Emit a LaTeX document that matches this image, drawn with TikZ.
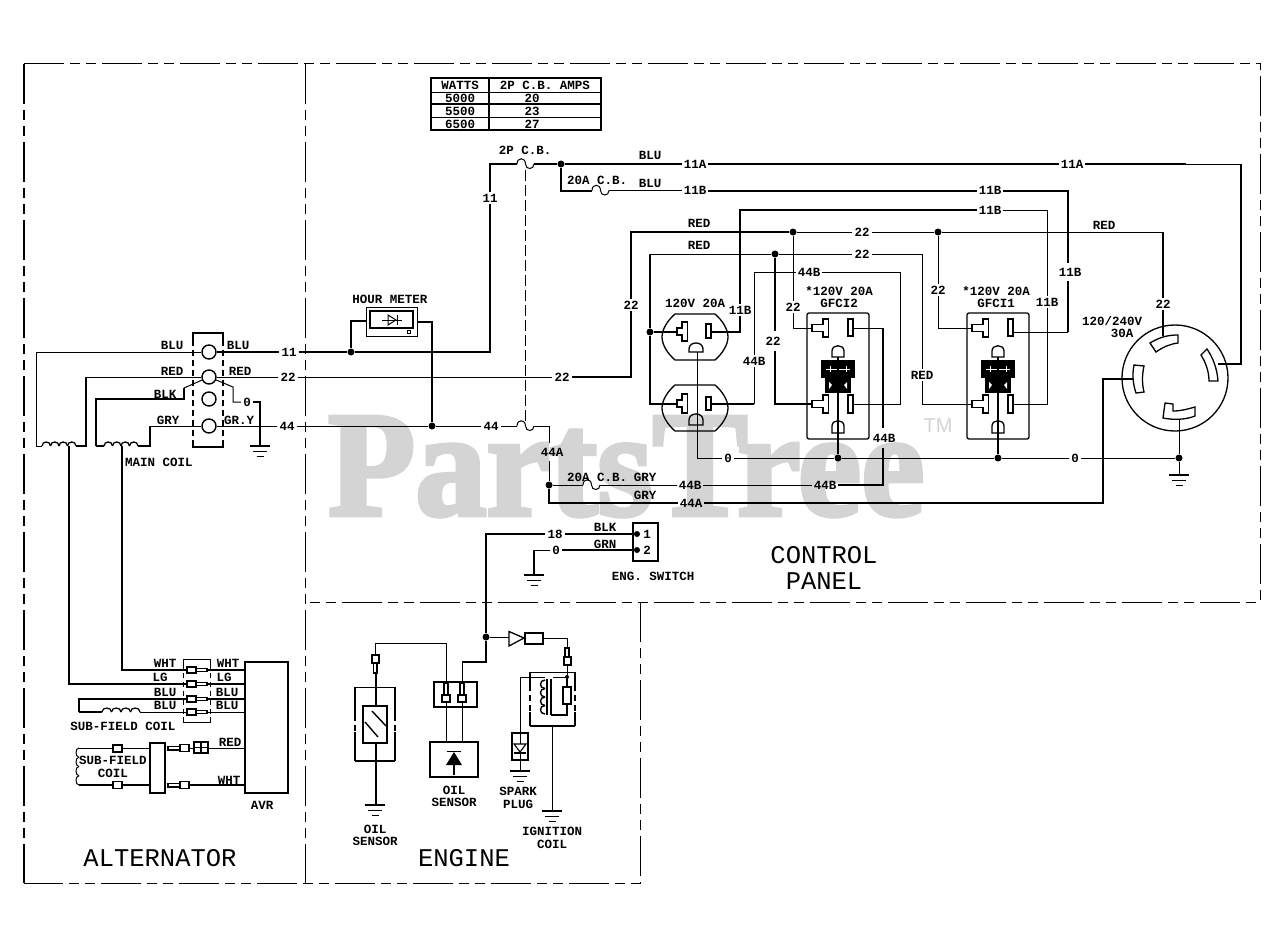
\documentclass[tikz,border=0pt]{standalone}
\usepackage{fontspec}
\setmainfont{Liberation Sans}
\newfontfamily\cadb{Liberation Mono Bold}
\newfontfamily\cadr{Liberation Mono}
\newfontfamily\wmf[FakeBold=3]{Liberation Serif Bold}
\definecolor{wm}{HTML}{D4D4D4}
\tikzset{
  wt/.style={line width=1pt,line join=miter},
  wk/.style={line width=2pt,line join=miter},
  lb/.style={font=\cadb\fontsize{12.5}{13}\selectfont,inner sep=2pt,text=black},
  big/.style={font=\cadr\fontsize{25.5}{26}\selectfont,inner sep=0pt,text=black},
  dotn/.style={circle,fill=black,inner sep=0pt,minimum size=7pt},
  ringn/.style={circle,draw=black,line width=1.4pt,fill=none,inner sep=0pt,minimum size=14pt},
  phantom/.style={line width=1pt,dash pattern=on 40pt off 6pt on 10pt off 6pt on 10pt off 6pt},
  linkd/.style={line width=1pt,dash pattern=on 11pt off 4pt},
  sided/.style={line width=1.3pt,dash pattern=on 6pt off 4pt},
}
\newcommand\lab[4][]{\node[lb,#1] (#2) at #3 {#4};}
\newcommand\gnd[2]{\draw[wk] (#1-10,#2) -- (#1+10,#2);\draw[wt] (#1-7,#2+5) -- (#1+7,#2+5);\draw[wt] (#1-3.5,#2+10) -- (#1+3.5,#2+10);}
\newcommand\humps[6]{\foreach \i in {1,...,#3}{\pgfmathsetmacro\xa{#1+(\i-1)*#4}\pgfmathsetmacro\xc{\xa+#4}\draw[#6] (\xa,#2) .. controls (\xa,#2-#5*1.33) and (\xc,#2-#5*1.33) .. (\xc,#2);}}
\newcommand\vhumps[6]{\foreach \i in {1,...,#3}{\pgfmathsetmacro\ya{#2+(\i-1)*#4}\pgfmathsetmacro\yc{\ya+#4}\draw[#6] (#1,\ya) .. controls (#1-#5*1.33,\ya) and (#1-#5*1.33,\yc) .. (#1,\yc);}}
\newcommand\breaker[2]{\draw[wt] (#1,#2) .. controls (#1,#2-7) and (#1+8.5,#2-7) .. (#1+8.5,#2) .. controls (#1+8.5,#2+6) and (#1+17,#2+6) .. (#1+17,#2);}
\newcommand\Tslot[5]{% xbar, y1, y2, stemx, stemhalf
 \pgfmathsetmacro\ym{(#2+#3)/2}
 \draw[wt,line width=1.3pt] (#1,#2) -- (#1+5.5,#2) -- (#1+5.5,#3) -- (#1,#3) -- (#1,\ym+#5) -- (#4,\ym+#5) -- (#4,\ym-#5) -- (#1,\ym-#5) -- cycle;}
\newcommand\gslot[4]{% cx, ytop, ybot, halfw
 \draw[line width=1.3pt] (#1-#4,#3) -- (#1-#4,#2+#4) .. controls (#1-#4,#2-1) and (#1+#4,#2-1) .. (#1+#4,#2+#4) -- (#1+#4,#3) -- cycle;}
\newcommand\gfci[2]{\begin{scope}[shift={(#1,0)}]
 \draw[line width=1.3pt,rounded corners=2pt] (807,313) rectangle (869,439);
 \Tslot{823}{319}{337}{812}{3.5}
 \draw[line width=1.3pt] (848,319) rectangle (853,336);
 \gslot{838}{345}{357}{6}
 \Tslot{823}{395}{413}{812}{3.5}
 \draw[line width=1.3pt] (848,395) rectangle (853,413);
 \gslot{838}{420}{433}{6}
 \fill[black] (821,360) rectangle (855,378);
 \fill[black] (825,378) rectangle (851,393);
 \draw[white,line width=1pt] (826,369) -- (850,369);
 \draw[white,line width=1pt] (830,366) -- (830,372) (846,366) -- (846,372);
 \fill[white] (829,382) -- (832,385) -- (829,389) -- cycle;
 \fill[white] (847,382) -- (844,385) -- (847,389) -- cycle;
 \coordinate (#2T1) at (812,328);
 \coordinate (#2S1) at (853,328);
 \coordinate (#2S1b) at (853,332);
 \coordinate (#2T2) at (812,404);
 \coordinate (#2S2) at (853,404);
 \coordinate (#2G1) at (838,357);
 \coordinate (#2G2) at (838,433);
\end{scope}}
\begin{document}
\begin{tikzpicture}[x=1pt,y=-1pt]
\useasboundingbox (0,0) rectangle (1280,934);
\fill[white] (0,0) rectangle (1280,934);
% watermark
\node[anchor=base west,inner sep=0pt,text=wm,font=\wmf\fontsize{150}{150}\selectfont,xscale=0.95] (wmark) at (328,515) {PartsTree};
\node[anchor=center,inner sep=0pt,text=wm,font=\fontsize{20}{20}\selectfont] (wmtm) at (938,426) {TM};
% frames
\draw[phantom] (24,64) -- (1260,64) -- (1260,602) -- (305,602);
\draw[phantom] (305,64) -- (305,883);
\draw[phantom] (640,602) -- (640,883) -- (24,883);
\draw[line width=2pt,dash pattern=on 40pt off 6pt on 10pt off 6pt on 10pt off 6pt] (24,64) -- (24,883);
\node[big] (tAlt) at (160,858) {ALTERNATOR};
\node[big] (tEng) at (464,858) {ENGINE};
\node[big] (tCon) at (824,555) {CONTROL};
\node[big] (tPan) at (824,581) {PANEL};
% table
\draw[line width=1.5pt] (431,78) rectangle (601,130);
\draw[line width=1pt] (431,92) -- (601,92);
\draw[line width=1.5pt] (431,104) -- (601,104);
\draw[line width=1pt] (431,117) -- (601,117);
\draw[line width=1.5pt] (489,78) -- (489,130);
\lab{tw}{(460,85)}{WATTS}
\lab{ta}{(545,85)}{2P C.B. AMPS}
\lab{t1}{(460,98)}{5000}
\lab{t2}{(460,111)}{5500}
\lab{t3}{(460,124)}{6500}
\lab{a1}{(532,98)}{20}
\lab{a2}{(532,111)}{23}
\lab{a3}{(532,124)}{27}
% terminal block
\draw[wk] (193,340) |- (223,333) -- (223,340);
\draw[wk] (193,440) |- (223,447) -- (223,440);
\draw[sided] (193,340) -- (193,440);
\draw[sided] (223,340) -- (223,440);
\node[ringn] (c1) at (209,352) {};
\node[ringn] (c2) at (209,377) {};
\node[ringn] (c3) at (209,399) {};
\node[ringn] (c4) at (209,426) {};
% wiring labels on wires
\lab{l11a}{(289,352)}{11}
\lab{l22a}{(288,377)}{22}
\lab{l44a}{(287,426)}{44}
\lab{l11b}{(490,198)}{11}
\lab{l22b}{(562,377)}{22}
\lab{l44b}{(491,426)}{44}
\lab{l22c}{(631,305)}{22}
\lab{l22d}{(862,232)}{22}
\lab{l22e}{(1163,304)}{22}
\lab{l22f}{(862,254)}{22}
\lab{lred}{(922,375)}{RED}
\lab{l11Aa}{(695,164)}{11A}
\lab{l11Ab}{(1072,164)}{11A}
\lab{l11Ba}{(695,190.5)}{11B}
\lab{l11Bb}{(990,190.5)}{11B}
\lab{l11Bc}{(990,210)}{11B}
\lab{l11Bd}{(1070,272)}{11B}
\lab{l11Be}{(1047,302)}{11B}
\lab{l11Bf}{(740,310)}{11B}
\lab{l44Ba}{(809,272)}{44B}
\lab{l44Bb}{(754,361)}{44B}
\lab{l44Bc}{(884,438)}{44B}
\lab{l44Bd}{(825,485)}{44B}
\lab{l44Be}{(690,485)}{44B}
\lab{l44Aa}{(552,452)}{44A}
\lab{l44Ab}{(691,503)}{44A}
\lab{l22g}{(793,307)}{22}
\lab{l22h}{(773,341)}{22}
\lab{l22i}{(938,290)}{22}
\lab{l0a}{(728,458)}{0}
\lab{l0b}{(1075,458)}{0}
\lab{l0c}{(247,402)}{0}
\lab{l18}{(555,534)}{18}
\lab{l0d}{(556,550)}{0}
% wire stubs beside off-centre labels
\coordinate (w1a) at (1068,263);
\coordinate (w1b) at (1068,281);
\coordinate (w2a) at (775,331);
\coordinate (w2b) at (775,351);
\coordinate (w3a) at (883,428);
\coordinate (w3b) at (883,448);
\coordinate (w4a) at (549,443);
\coordinate (w4b) at (549,461);
% junctions
\node[dotn] (j351) at (351,352) {};
\node[dotn] (j432) at (432,426) {};
\node[dotn] (j561) at (561,164) {};
\node[dotn] (j793) at (793,232) {};
\node[dotn] (j938) at (938,232) {};
\node[dotn] (j777) at (775,254) {};
\node[dotn] (j650) at (650,332) {};
\node[dotn] (j549) at (549,485) {};
\node[dotn] (j838) at (838,458) {};
\node[dotn] (j998) at (998,458) {};
\node[dotn] (j1179) at (1179,458) {};
\node[dotn] (j486) at (486,637) {};
\node[circle,fill=black,inner sep=0pt,minimum size=6pt] (s1) at (637,534) {};
\node[circle,fill=black,inner sep=0pt,minimum size=6pt] (s2) at (637,550) {};
\node[circle,fill=black,inner sep=0pt,minimum size=4pt] (j567) at (567,677) {};
% alternator side coils
\coordinate (cl1) at (36,446);
\coordinate (cl2) at (86,446);
\coordinate (cl3) at (96,446);
\coordinate (cl4) at (150,446);
\draw[wt] (c1) -- (36,352) -- (cl1) -- (42,446);
\humps{42}{446}{4}{8.5}{4}{line width=1.3pt}
\draw[wk] (76,446) -- (cl2) -- (86,377);
\draw[wt] (86,377) -- (c2);
\draw[wk] (cl3) -- (96,399) -- (184,399) -- (184,388);
\draw[wt] (184,388) -- (c2);
\draw[wk] (cl3) -- (104,446);
\humps{104}{446}{4}{8.5}{4}{line width=1.3pt}
\draw[wk] (138,446) -- (cl4) -- (150,426);
\draw[wt] (150,426) -- (c4);
% center taps to connector
\coordinate (rLG) at (187,684);
\coordinate (rWH) at (187,670);
\draw[wk] (69,446) -- (69,684) -- (rLG);
\draw[wk] (122,446) -- (122,670) -- (rWH);
\node[lb] (mcoil) at (159,462) {MAIN COIL};
% right of block
\draw[wk] (c1) -- (l11a);
\draw[wk] (l11a) -- (j351);
\draw[wk] (j351) -- (490,352) -- (l11b);
\draw[wk] (l11b) -- (490,164) -- (517,164);
\coordinate (cb1) at (525,170);
\breaker{517}{164}
\draw[wk] (534,164) -- (j561);
\draw[wt] (c2) -- (l22a);
\draw[wt] (l22a) -- (l22b);
\draw[wk] (l22b) -- (631,377) -- (l22c);
\draw[wk] (l22c) -- (631,232) -- (j793);
\draw[wt] (c2) -- (233,387) -- (233,402) -- (l0c);
\draw[wk] (l0c) -- (260,402) -- (260,446);
\gnd{260}{446}
\draw[wt] (c4) -- (l44a);
\draw[wt] (l44a) -- (j432);
\draw[wt] (j432) -- (l44b);
\draw[wt] (l44b) -- (517,426);
\breaker{517}{426}
\coordinate (cb2) at (525,423);
\draw[linkd] (cb1) -- (cb2);
\draw[wt] (534,426) -- (549,426) -- (w4a);
\draw[wt] (w4b) -- (j549);
% hour meter
\draw[wt] (366,307) rectangle (417,336);
\draw[wk] (370,311) rectangle (413,328);
\node[inner sep=0pt,minimum size=3pt,draw=black,line width=1.5pt] (hmt) at (409,332) {};
\draw[wt] (382,320) -- (402,320) (397,315) -- (397,325);
\draw[wt,fill=none] (388,315) -- (396,320) -- (388,325) -- cycle;
\coordinate (hmL) at (366,321);
\coordinate (hmR) at (417,322);
\node[lb] (hmn) at (390,299) {HOUR METER};
\draw[wk] (j351) -- (351,321) -- (hmL);
\draw[wk] (hmR) -- (432,322) -- (j432);
% top wires
\lab{lBLUa}{(650,155)}{BLU}
\lab{lBLUb}{(650,183)}{BLU}
\lab{lcb1}{(525,150)}{2P C.B.}
\lab{lcb2}{(597,180)}{20A C.B.}
\lab{lRa}{(699,223)}{RED}
\lab{lRb}{(699,245)}{RED}
\lab{lRc}{(1104,225)}{RED}
\draw[wk] (j561) -- (l11Aa);
\draw[wk] (l11Aa) -- (l11Ab);
\draw[wk] (l11Ab) -- (1186,164);
\draw[wt] (1186,164) -- (1241,164);
\draw[wk] (1241,164) -- (1241,364) -- (1218,364);
\draw[wk] (j561) -- (561,190.5) -- (592,190.5);
\breaker{592}{190.5}
\draw[wt] (609,190.5) -- (l11Ba);
\draw[wk] (l11Ba) -- (l11Bb);
\draw[wk] (l11Bb) -- (1068,190.5) -- (w1a);
% RED lines
\draw[wt] (j793) -- (l22d);
\draw[wt] (l22d) -- (j938);
\draw[wt] (j938) -- (1163,232);
\draw[wk] (1163,232) -- (l22e);
\draw[wk] (l22e) -- (1163,336);
\draw[wt] (650,254) -- (j777);
\draw[wt] (j777) -- (l22f);
\draw[wt] (l22f) -- (922,254) -- (lred);
% receptacles
\foreach \dy/\nm in {0/up,71/lo}{
 \begin{scope}[shift={(0,\dy)}]
 \draw[line width=1.3pt] (675,314) -- (715,314) .. controls (722,320) and (728,329) .. (728,337) .. controls (728,345) and (722,354) .. (715,360) -- (675,360) .. controls (668,354) and (662,345) .. (662,337) .. controls (662,329) and (668,320) .. (675,314) -- cycle;
 \end{scope}
}
\Tslot{682}{322}{341}{677}{3.5}
\draw[line width=1.3pt] (706,324) rectangle (711,338);
\gslot{696}{342}{352}{7}
\Tslot{682}{394}{413}{677}{3.5}
\draw[line width=1.3pt] (706,397) rectangle (711,410);
\gslot{696}{413}{425}{7}
\coordinate (rT1) at (677,332);
\coordinate (rS1) at (711,332);
\coordinate (rT2) at (677,404);
\coordinate (rS2) at (711,404);
\coordinate (rG1) at (697,352);
\lab{lrv}{(695,303)}{120V 20A}
\draw[wk] (650,254) -- (j650);
\draw[wk] (j650) -- (rT1);
\draw[wk] (j650) -- (650,404) -- (rT2);
% 11B third
\draw[wk] (rS1) -- (740,332) -- (l11Bf);
\draw[wk] (l11Bf) -- (740,210) -- (l11Bc);
\draw[wt] (l11Bc) -- (1047,210) -- (l11Be);
% GFCI
\gfci{0}{gA}
\gfci{160}{gB}
\lab{lg2a}{(839,291)}{*120V 20A}
\lab{lg2b}{(839,303)}{GFCI2}
\lab{lg1a}{(996,291)}{*120V 20A}
\lab{lg1b}{(996,303)}{GFCI1}
\draw[wt] (j793) -- (l22g);
\draw[wt] (l22g) -- (793,328) -- (gAT1);
\draw[wt] (j938) -- (l22i);
\draw[wt] (l22i) -- (938,328) -- (gBT1);
\draw[wk] (j777) -- (w2a);
\draw[wk] (w2b) -- (775,404) -- (gAT2);
\draw[wt] (lred) -- (922,404) -- (gBT2);
\draw[wk] (w1b) -- (1068,332);
\draw[wt] (1068,332) -- (gBS1b);
\draw[wt] (l11Be) -- (1047,404) -- (gBS2);
\draw[wk] (rS2) -- (754,404);
\draw[wt] (754,404) -- (l44Bb);
\draw[wt] (l44Bb) -- (754,272) -- (l44Ba);
\draw[wt] (l44Ba) -- (900,272) -- (900,404) -- (gAS2);
\draw[wt] (gAS1) -- (883,328) ;
\draw[wk] (883,328) -- (w3a);
\draw[wk] (w3b) -- (883,485) -- (l44Bd);
\draw[wt] (l44Bd) -- (l44Be);
% 44 lower
\draw[wt] (j549) -- (583,485);
\breaker{583}{485}
\draw[wt] (600,485) -- (l44Be);
\lab{lcb3}{(597,477)}{20A C.B.}
\lab{lg1}{(645,477)}{GRY}
\lab{lg2}{(645,495)}{GRY}
\draw[wk] (j549) -- (549,503) -- (l44Ab);
\coordinate (plL) at (1133,379);
\draw[wk] (l44Ab) -- (1103,503) -- (1103,379) -- (plL);
% 0 line
\draw[wt] (rG1) -- (697,458) -- (l0a);
\draw[wt] (l0a) -- (j838);
\draw[wt] (j838) -- (j998);
\draw[wt] (j998) -- (l0b);
\draw[wt] (l0b) -- (j1179);
\draw[wk] (j838) -- (gAG1);
\draw[wk] (j998) -- (gBG1);
% plug
\node[circle,draw=black,line width=1.3pt,inner sep=0pt,minimum size=106pt] (plug) at (1175,378) {};
\draw[line width=1.3pt] (1150,343) .. controls (1160,337) and (1168,335) .. (1178,335) -- (1178,343) .. controls (1170,344) and (1163,347) .. (1156,352) -- cycle;
\draw[line width=1.3pt] (1201,355) -- (1207,349) .. controls (1213,358) and (1217,368) .. (1218,381) -- (1209,381) .. controls (1209,372) and (1206,363) .. (1201,355) -- cycle;
\draw[line width=1.3pt] (1134,365) -- (1144,366) .. controls (1142,375) and (1142,384) .. (1144,392) -- (1136,393) .. controls (1133,384) and (1132,375) .. (1134,365) -- cycle;
\draw[line width=1.3pt] (1165,403) -- (1173,404) -- (1173,411) .. controls (1181,411) and (1188,409) .. (1195,407) -- (1195,416) .. controls (1185,420) and (1173,420) .. (1163,418) -- cycle;
\coordinate (plB) at (1179,420);
\draw[wt] (plB) -- (j1179) -- (1179,475);
\gnd{1179}{475}
\lab{lpa}{(1112,321)}{120/240V}
\lab{lpb}{(1122,333)}{30A}
% left labels
\lab{b1}{(172,345)}{BLU}
\lab{b2}{(172,371)}{RED}
\lab{b3}{(165,394)}{BLK}
\lab{b4}{(168,420)}{GRY}
\lab{b5}{(238,345)}{BLU}
\lab{b6}{(240,371)}{RED}
\lab{b7}{(239,420)}{GR.Y}
% engine switch
\draw[wk] (633,523) rectangle (658,561);
\lab{sw1}{(647,534)}{1}
\lab{sw2}{(647,550)}{2}
\lab{swb}{(605,527)}{BLK}
\lab{swg}{(605,544)}{GRN}
\lab{swn}{(653,576)}{ENG. SWITCH}
\draw[wk] (j486) -- (486,534) -- (l18);
\draw[wk] (l18) -- (s1);
\draw[wk] (l0d) -- (s2);
\draw[wt] (l0d) -- (534,550);
\draw[wk] (534,550) -- (534,575);
\gnd{534}{575}
% connector block
\draw[wt] (183,664) |- (210,659) -- (210,664);
\draw[wt] (183,717) |- (210,722) -- (210,717);
\draw[line width=1pt,dash pattern=on 5pt off 4pt] (183,664) -- (183,717);
\draw[line width=1pt,dash pattern=on 5pt off 4pt] (210,664) -- (210,717);
\foreach \yy in {670,684,699,712}{
 \draw[line width=1.2pt] (187,\yy-3) rectangle (196,\yy+3);
 \draw[line width=1.2pt] (196,\yy-1.5) -- (207,\yy-1.5) -- (207,\yy+1.5) -- (196,\yy+1.5);
}
\coordinate (av1) at (245,670);
\coordinate (av2) at (245,684);
\coordinate (av3) at (245,699);
\coordinate (av4) at (245,712);
\coordinate (av5) at (245,748);
\coordinate (av6) at (245,785);
\draw[line width=1.3pt] (245,662) rectangle (288,793);
\draw[wk] (207,670) -- (av1);
\draw[wk] (207,684) -- (av2);
\draw[wk] (79,712) -- (79,699) -- (187,699);
\draw[wk] (207,699) -- (av3);
\draw[wk] (79,712) -- (102,712);
\humps{102}{712}{4}{9.5}{4}{line width=1.2pt}
\draw[wt] (140,712) -- (187,712);
\draw[wt] (207,712) -- (av4);
\lab{k1}{(165,663)}{WHT}
\lab{k2}{(160,677)}{LG}
\lab{k3}{(165,692)}{BLU}
\lab{k4}{(165,705)}{BLU}
\lab{k5}{(228,663)}{WHT}
\lab{k6}{(224,677)}{LG}
\lab{k7}{(227,692)}{BLU}
\lab{k8}{(227,705)}{BLU}
\lab{k9}{(123,726)}{SUB-FIELD COIL}
\lab{k10}{(230,742)}{RED}
\lab{k11}{(229,780)}{WHT}
\lab{k12}{(262,805)}{AVR}
\lab{k13}{(113,760)}{SUB-FIELD}
\lab{k14}{(113,773)}{COIL}
% lower sub-field
\vhumps{79}{748}{4}{9.25}{3}{line width=1pt}
\draw[wt] (79,748) -- (113,748);
\draw[wk] (79,785) -- (113,785);
\draw[line width=1.4pt] (113,745) rectangle (122,752);
\draw[line width=1.4pt] (113,781.5) rectangle (122,788.5);
\draw[wt] (122,748) -- (150,748);
\draw[wk] (122,785) -- (150,785);
\draw[line width=1.4pt] (150,743) rectangle (165,793);
\draw[line width=1.2pt] (168,746.5) -- (180,746.5) -- (180,750) -- (168,750) -- cycle;
\draw[line width=1.2pt] (168,783.5) -- (180,783.5) -- (180,787) -- (168,787) -- cycle;
\draw[line width=1.4pt] (180,744.5) rectangle (189,751.5);
\draw[line width=1.4pt] (180,781.5) rectangle (189,788.5);
\draw[wt] (189,748) -- (194,748);
\draw[line width=1.4pt] (194,742) rectangle (208,753);
\draw[line width=1.4pt] (201,742) -- (201,753) (194,747.5) -- (208,747.5);
\draw[wt] (208,748) -- (av5);
\draw[wk] (189,785) -- (av6);
% engine: oil sensor
\draw[wt] (355,687) -- (395,687);
\draw[wk] (355,761) -- (395,761);
\draw[line width=1.4pt] (355,687) -- (355,715) (395,687) -- (395,715);
\draw[sided] (355,715) -- (355,732);
\draw[sided] (395,715) -- (395,732);
\draw[line width=1.4pt] (355,732) -- (355,761) (395,732) -- (395,761);
\draw[wk] (363,706) rectangle (387,743);
\draw[line width=1.4pt] (372,711) -- (386,726);
\draw[line width=1.4pt] (365,722) -- (378,737);
\draw[line width=1.4pt] (372,655) rectangle (379,663);
\draw[line width=1.2pt] (373.5,663) rectangle (377,673);
\coordinate (oT) at (375.5,655);
\coordinate (oB) at (375.5,706);
\coordinate (oG) at (375.5,805);
\draw[wk] (375.5,673) -- (oB);
\draw[wk] (375.5,743) -- (oG);
\gnd{375}{805}
\node[lb] (ol1) at (375,829) {OIL};
\node[lb] (ol2) at (375,841) {SENSOR};
% connector box
\draw[wk] (434,682) rectangle (477,707);
\foreach \xx in {446,462}{
 \draw[line width=1.2pt] (\xx-2,683) rectangle (\xx+2,695);
 \draw[line width=1.4pt] (\xx-4,695) rectangle (\xx+4,702);
 \draw[wt] (\xx,702) -- (\xx,742);
}
\coordinate (cnA) at (446,683);
\coordinate (cnB) at (462,683);
\draw[wt] (oT) -- (375.5,643) -- (446,643) -- (cnA);
\draw[wt] (cnB) -- (462,662);
\draw[wk] (462,662) -- (486,662) -- (j486);
\draw[line width=1.2pt] (430,742) rectangle (478,777);
\draw[wt] (447,751.5) -- (461,751.5);
\fill[black] (454,752) -- (462,765) -- (446,765) -- cycle;
\draw[wk] (454,765) -- (454,775);
\node[lb] (ol3) at (454,790) {OIL};
\node[lb] (ol4) at (454,802) {SENSOR};
% ignition
\coordinate (trI) at (509,637);
\coordinate (bxO) at (543,638);
\draw[wt] (j486) -- (trI);
\draw[line width=1.3pt] (509,631.5) -- (524,638) -- (509,646) -- cycle;
\draw[line width=1.5pt] (525,633) rectangle (543,644);
\draw[wt] (bxO) -- (567,638) -- (567,648);
\draw[line width=1.2pt] (565,648) rectangle (569,657);
\draw[line width=1.4pt] (564,657) rectangle (571,665);
\draw[wt] (567,665) -- (j567);
\draw[wk] (j567) -- (567,687);
\draw[wt] (530,672) -- (575,672);
\draw[wk] (530,726) -- (575,726);
\draw[line width=1.4pt] (530,672) -- (530,685) (575,672) -- (575,685);
\draw[sided] (530,685) -- (530,712);
\draw[sided] (575,685) -- (575,712);
\draw[line width=1.4pt] (530,712) -- (530,726) (575,712) -- (575,726);
\draw[line width=1.4pt] (547,679) -- (547,715) (551,679) -- (551,715);
\vhumps{545}{680}{4}{8.5}{4.5}{line width=1.4pt}
\draw[wt] (553,677) -- (j567);
\draw[wt] (520,677) -- (545,677);
\draw[line width=1.5pt] (563,687) rectangle (571,704);
\draw[wk] (567,704) -- (567,715) -- (551,715);
\coordinate (spT) at (520,733);
\coordinate (spB) at (520,771);
\draw[wt] (520,677) -- (spT);
\draw[wk] (512,733) rectangle (528,760);
\draw[line width=1.1pt] (514,744) -- (526,744) -- (520,752) -- cycle;
\draw[line width=1.1pt] (514,753) -- (526,753);
\draw[wt] (520,733) -- (520,744) (520,753) -- (520,760);
\draw[wt] (520,760) -- (spB);
\gnd{520}{771}
\node[lb] (sp1) at (518,791) {SPARK};
\node[lb] (sp2) at (518,804) {PLUG};
\coordinate (igT) at (552,726);
\coordinate (igB) at (552,811);
\draw[wt] (igT) -- (igB);
\gnd{552}{811}
\node[lb] (ig1) at (552,831) {IGNITION};
\node[lb] (ig2) at (552,844) {COIL};
\end{tikzpicture}
\end{document}
